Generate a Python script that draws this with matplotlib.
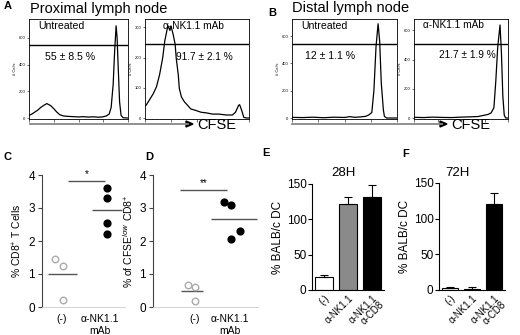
import numpy as np
import matplotlib.pyplot as plt
from matplotlib.patches import Polygon

plt.rcParams['font.family'] = ['Liberation Sans', 'DejaVu Sans']
plt.rcParams['mathtext.fontset'] = 'custom'
plt.rcParams['mathtext.rm'] = 'Liberation Sans'

# ---- data ----
# histograms (x = fraction of CFSE axis, y = # cells)
prox_untr_x = [0.00, 0.03, 0.06, 0.09, 0.12, 0.15, 0.18, 0.20, 0.22, 0.25, 0.28, 0.31, 0.35, 0.40, 0.45,
               0.50, 0.55, 0.60, 0.65, 0.70, 0.74, 0.78, 0.81, 0.83, 0.85, 0.865, 0.88, 0.89, 0.90, 0.915,
               0.93, 0.95, 1.00]
prox_untr_y = [20, 30, 45, 60, 80, 95, 108, 100, 92, 70, 45, 25, 15, 12, 10,
               8, 10, 7, 9, 6, 8, 15, 30, 80, 250, 500, 690, 600, 400, 120,
               20, 2, 0]
prox_nk_x = [0.00, 0.01, 0.03, 0.05, 0.08, 0.11, 0.14, 0.17, 0.19, 0.21, 0.22, 0.24, 0.25, 0.27, 0.29,
             0.30, 0.32, 0.33, 0.35, 0.38, 0.41, 0.44, 0.49, 0.54, 0.59, 0.65, 0.71, 0.78, 0.84, 0.87,
             0.90, 0.91, 0.93, 0.95, 0.98, 1.00]
prox_nk_y = [40, 42, 53, 64, 81, 103, 143, 199, 255, 289, 306, 290, 305, 278, 244,
             199, 143, 98, 70, 53, 42, 30, 25, 19, 17, 13, 13, 10, 10, 19,
             42, 44, 25, 2, 0, 0]
dist_untr_x = [0.00, 0.10, 0.20, 0.30, 0.40, 0.50, 0.55, 0.60, 0.65, 0.70, 0.73, 0.76, 0.78, 0.80,
               0.82, 0.835, 0.85, 0.87, 0.88, 0.90, 1.00]
dist_untr_y = [5, 3, 6, 2, 6, 4, 10, 5, 8, 12, 22, 40, 200, 520, 690, 560, 260, 60, 12, 0, 0]
dist_nk_x = [0.00, 0.10, 0.20, 0.30, 0.40, 0.50, 0.60, 0.68, 0.74, 0.79, 0.82, 0.85, 0.87, 0.89,
             0.915, 0.93, 0.945, 0.96, 0.975, 1.00]
dist_nk_y = [5, 3, 6, 4, 3, 6, 8, 10, 18, 25, 35, 70, 250, 480, 637, 450, 150, 20, 0, 0]

# C / D dot plots
c_ctrl_x = [-0.18, 0.03, 0.03]
c_ctrl_y = [1.45, 1.25, 0.22]
c_nk_x = [1.18, 1.18, 1.18, 1.18]
c_nk_y = [3.6, 3.3, 2.55, 2.2]
c_means = [1.0, 2.93]

d_ctrl_x = [-0.2, 0.0, 0.0]
d_ctrl_y = [0.68, 0.6, 0.18]
d_nk_x = [0.83, 1.03, 1.03, 1.29]
d_nk_y = [3.18, 3.08, 2.07, 2.3]
d_means = [0.5, 2.67]

dot_labels = ['(-)', 'α-NK1.1\nmAb']

# E / F bars
bar_labels = ['(-)', 'α-NK1.1', 'α-NK1.1\nα-CD8']
bar_colors = ['white', '#8a8a8a', 'black']
e_vals = [19, 122, 132]
e_err = [2.5, 10, 17]
f_vals = [3, 2, 120]
f_err = [1.5, 2.5, 16]

W, H = 520, 335
fig = plt.figure(figsize=(5.2, 3.35), dpi=100)


def px_axes(x0, y0, x1, y1):
    return fig.add_axes([x0 / W, 1 - y1 / H, (x1 - x0) / W, (y1 - y0) / H])


# full-figure overlay for free text and arrows, drawn on top
ov = fig.add_axes([0, 0, 1, 1])
ov.set_xlim(0, W)
ov.set_ylim(H, 0)
ov.axis('off')
ov.set_zorder(10)

major = [0, 0.25, 0.5, 0.75, 1.0]
minor = [d * 0.25 + 0.25 * np.log10(k) for d in range(4) for k in range(2, 10)]


def histo(rect, x, y, ymax, yticks, gate):
    ax = px_axes(*rect)
    ax.plot(x, y, color='k', lw=0.9)
    ax.axhline(gate, color='k', lw=1.0)
    ax.set_xlim(0, 1)
    ax.set_ylim(-ymax * 0.01, ymax)
    ax.set_yticks(yticks)
    ax.set_yticklabels([str(t) for t in yticks], fontsize=3)
    ax.set_xticks(major)
    ax.set_xticks(minor, minor=True)
    ax.set_xticklabels([])
    ax.tick_params(axis='y', length=1.5, width=0.4, pad=1)
    ax.tick_params(axis='x', which='major', length=2, width=0.4)
    ax.tick_params(axis='x', which='minor', length=1, width=0.3)
    ax.set_ylabel('# Cells', fontsize=3, labelpad=1)
    for s in ax.spines.values():
        s.set_linewidth(0.6)
    return ax


histo((29, 19, 128, 119), prox_untr_x, prox_untr_y, 741, [0, 200, 400, 600], 548)
histo((145, 19, 249, 119), prox_nk_x, prox_nk_y, 328, [0, 100, 200, 300], 246)
histo((292, 19, 397, 119), dist_untr_x, dist_untr_y, 725, [0, 200, 400, 600], 542)
histo((414, 19, 508, 119), dist_nk_x, dist_nk_y, 678, [0, 200, 400, 600], 507)

# histogram annotations
ov.text(38, 26, 'Untreated', fontsize=7.6, va='center')
ov.text(45, 57, '55 ± 8.5 %', fontsize=7.6, va='center')
ov.text(163, 26, 'α-NK1.1 mAb', fontsize=7.3, va='center')
ov.text(176, 57, '91.7 ± 2.1 %', fontsize=7.3, va='center')
ov.text(301, 26, 'Untreated', fontsize=7.6, va='center')
ov.text(305, 56, '12 ± 1.1 %', fontsize=7.6, va='center')
ov.text(423, 25, 'α-NK1.1 mAb', fontsize=7.3, va='center')
ov.text(439, 55, '21.7 ± 1.9 %', fontsize=7.3, va='center')

ov.text(30, 9, 'Proximal lymph node', fontsize=10.5, va='center')
ov.text(292, 8, 'Distal lymph node', fontsize=10.5, va='center')


def cfse_arrow(x0, x1, y):
    ov.plot([x0, x1 - 5], [y, y], color='#888888', lw=1.3)
    ov.add_patch(Polygon([[x1 - 7, y - 3], [x1, y], [x1 - 7, y + 3]], closed=True, color='k'))
    ov.text(x1 + 4, y + 1, 'CFSE', fontsize=10.5, va='center')


cfse_arrow(30, 193, 124)
cfse_arrow(292, 447, 124)

# panel letters
for t, x, y in [('A', 4, 6), ('B', 268, 13), ('C', 3, 157), ('D', 145, 157), ('E', 262, 153), ('F', 402, 154)]:
    ov.text(x, y, t, fontsize=8, fontweight='bold', va='center')


def dotplot(rect, xlim, cx, cy, nx, ny, means, ctrl_span, nk_span, sig_span, sig_y, stars, ylabel):
    ax = px_axes(*rect)
    ax.set_xlim(*xlim)
    ax.set_ylim(0, 4)
    ax.spines['top'].set_visible(False)
    ax.spines['right'].set_visible(False)
    ax.spines['left'].set_color('#444444')
    ax.spines['left'].set_linewidth(0.8)
    ax.spines['bottom'].set_color('#cccccc')
    ax.spines['bottom'].set_linewidth(0.6)
    ax.scatter(cx, cy, s=22, facecolors='white', edgecolors='#aaaaaa', linewidths=1.0, zorder=3)
    ax.scatter(nx, ny, s=24, color='black', zorder=3)
    ax.hlines(means[0], *ctrl_span, color='#555555', lw=1.0)
    ax.hlines(means[1], *nk_span, color='#555555', lw=1.0)
    ax.hlines(sig_y, *sig_span, color='#555555', lw=1.0)
    ax.text(sum(sig_span) / 2, sig_y + 0.05, stars, ha='center', va='bottom', fontsize=7)
    ax.set_yticks([0, 1, 2, 3, 4])
    ax.tick_params(axis='y', labelsize=8.5, length=3, width=0.8, color='#444444', pad=2)
    ax.set_xticks([0, 1])
    ax.set_xticklabels(dot_labels, fontsize=7.5)
    ax.tick_params(axis='x', length=0, pad=5)
    ax.set_ylabel(ylabel, fontsize=7.5, labelpad=3)
    return ax


dotplot((42, 175, 125, 307), (-0.53, 1.66), c_ctrl_x, c_ctrl_y, c_nk_x, c_nk_y, c_means,
        (-0.37, 0.39), (0.79, 1.58), (0.16, 1.13), 3.82, '*', '% CD8$^{+}$ T Cells')
dotplot((153, 175, 258, 307), (-1.2, 1.8), d_ctrl_x, d_ctrl_y, d_nk_x, d_nk_y, d_means,
        (-0.4, 0.23), (0.46, 1.77), (-0.43, 0.9), 3.55, '**', '% of CFSE$^{low}$ CD8$^{+}$')


def barplot(rect, vals, errs, title, tx):
    ax = px_axes(*rect)
    pos = np.arange(len(vals))
    ax.bar(pos, vals, width=0.72, color=bar_colors, edgecolor='black', linewidth=0.8)
    ax.errorbar(pos, vals, yerr=[np.zeros(len(errs)), errs], fmt='none', ecolor='black',
                elinewidth=0.8, capsize=3, capthick=0.8)
    ax.set_xlim(-0.5, 2.5)
    ax.set_ylim(0, 150)
    ax.spines['top'].set_visible(False)
    ax.spines['right'].set_visible(False)
    ax.set_yticks([0, 50, 100, 150])
    ax.tick_params(axis='y', labelsize=8.5, length=3, width=0.8, pad=1)
    ax.set_xticks(pos)
    ax.set_xticklabels(bar_labels, fontsize=7, rotation=45, ha='right', rotation_mode='anchor',
                       linespacing=1.0)
    ax.tick_params(axis='x', length=0, pad=2)
    ax.set_ylabel('% BALB/c DC', fontsize=8.5, labelpad=2)
    ov.text(tx, 173, title, fontsize=9.5, ha='center', va='center')
    return ax


barplot((312, 184, 384, 290), e_vals, e_err, '28H', 343)
barplot((439, 183, 505, 290), f_vals, f_err, '72H', 458)

fig.savefig('out.png', dpi=100)
